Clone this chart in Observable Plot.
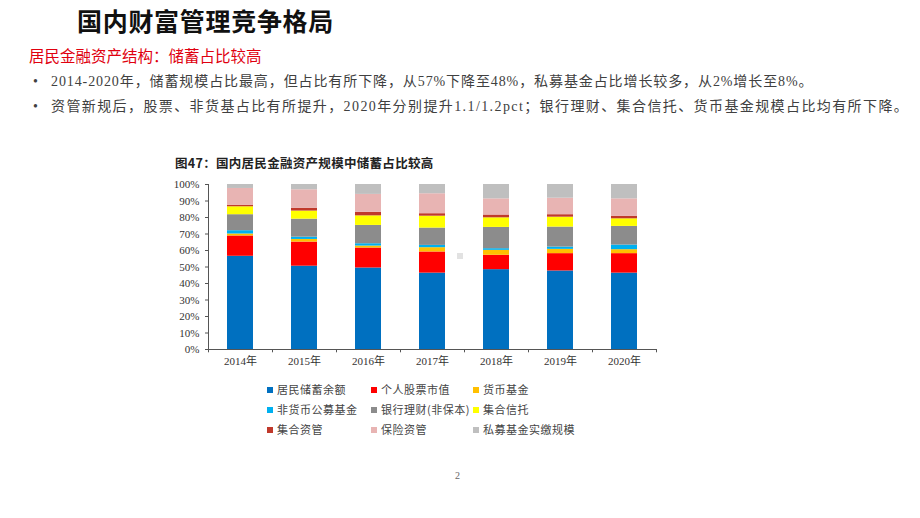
<!DOCTYPE html>
<html>
<head>
<meta charset="utf-8">
<script src="https://cdn.jsdelivr.net/npm/d3@7"></script>
<script src="https://cdn.jsdelivr.net/npm/@observablehq/plot@0.6"></script>
<style>
  html, body { margin: 0; padding: 0; background: #fff; }
  body { width: 920px; height: 518px; position: relative; overflow: hidden; font-family: "Liberation Serif", "Noto Sans CJK SC", serif; }
  .abs { position: absolute; white-space: nowrap; }
  #title { left: 77px; top: 3px; font-family: "Noto Sans CJK SC", sans-serif; font-size: 25px; font-weight: 700; color: #111; line-height: 34px; letter-spacing: 0.7px; }
  #sub { left: 29px; top: 44px; font-family: "Noto Sans CJK SC", sans-serif; font-size: 15.5px; color: #e0000f; line-height: 22px; }
  .bullet { left: 33px; font-size: 14px; color: #404040; line-height: 20px; }
  .bullet span.dot { display: inline-block; width: 18px; letter-spacing: 0; }
  #b1 { top: 72px; letter-spacing: 0.9px; }
  #b2 { top: 97px; letter-spacing: 1.4px; }
  #ctitle { left: 175px; top: 154px; font-family: "Noto Sans CJK SC", sans-serif; font-size: 12.5px; font-weight: 700; color: #222; line-height: 18px; letter-spacing: 0.3px; }
  #chart { left: 160px; top: 175px; }
  .leg { font-family: "Noto Sans CJK SC", sans-serif; font-size: 11px; color: #444; line-height: 14px; letter-spacing: 0.5px; }
  .leg i { display: inline-block; width: 6px; height: 6px; margin-right: 4px; vertical-align: 1px; }
  #pg { left: 455px; top: 470px; font-size: 10px; color: #666; }
  #dot { left: 457px; top: 253px; width: 6px; height: 6px; background: #e2e2e2; }
</style>
</head>
<body>
<div class="abs" id="title">国内财富管理竞争格局</div>
<div class="abs" id="sub">居民金融资产结构：储蓄占比较高</div>
<div class="abs bullet" id="b1"><span class="dot">•</span>2014-2020年，储蓄规模占比最高，但占比有所下降，从57%下降至48%，私募基金占比增长较多，从2%增长至8%。</div>
<div class="abs bullet" id="b2"><span class="dot">•</span>资管新规后，股票、非货基占比有所提升，2020年分别提升1.1/1.2pct；银行理财、集合信托、货币基金规模占比均有所下降。</div>
<div class="abs" id="ctitle">图47：国内居民金融资产规模中储蓄占比较高</div>
<div class="abs" id="chart"></div>
<div id="legend"></div>
<div class="abs" id="dot"></div>
<div class="abs" id="pg">2</div>
<script>
const years = ["2014年", "2015年", "2016年", "2017年", "2018年", "2019年", "2020年"];
const seriesNames = ["居民储蓄余额", "个人股票市值", "货币基金", "非货币公募基金", "银行理财(非保本)", "集合信托", "集合资管", "保险资管", "私募基金实缴规模"];
const seriesColors = ["#0070c0", "#ff0000", "#ffc000", "#00b0f0", "#8c8c8c", "#ffff00", "#c0392b", "#e8b4b3", "#bfbfbf"];
const savings     = [56.5, 50.5, 49.4, 46.3, 48.4, 47.6, 46.3];
const stocks      = [12.3, 14.6, 12.1, 12.8, 8.7, 10.5, 11.8];
const moneyFund   = [1.2, 1.6, 1.2, 2.6, 3.0, 2.6, 2.4];
const nonMoneyFund= [2.0, 1.4, 1.4, 1.4, 1.0, 1.4, 2.8];
const bankWM      = [9.7, 10.9, 11.1, 10.5, 12.9, 12.1, 11.3];
const trust       = [4.8, 4.9, 5.8, 7.2, 5.8, 6.0, 4.6];
const assetMgmt   = [0.8, 1.6, 2.1, 1.5, 1.7, 1.5, 1.6];
const insurance   = [10.3, 11.3, 10.9, 12.1, 9.8, 10.0, 10.5];
const privateFund = [2.4, 3.2, 6.0, 5.6, 8.7, 8.3, 8.7];
const yTicks = [0, 10, 20, 30, 40, 50, 60, 70, 80, 90, 100];

const seriesValues = [savings, stocks, moneyFund, nonMoneyFund, bankWM, trust, assetMgmt, insurance, privateFund];
const data = [];
seriesNames.forEach((s, i) => years.forEach((y, j) => data.push({year: y, series: s, value: seriesValues[i][j]})));

const chart = Plot.plot({
  width: 510,
  height: 195,
  marginLeft: 48,
  marginRight: 14,
  marginTop: 9,
  marginBottom: 21,
  style: {fontFamily: "'Liberation Serif', 'Noto Sans CJK SC', serif", fontSize: "11px", color: "#333", background: "transparent"},
  x: {domain: years, paddingInner: 0.6, paddingOuter: 0.3, label: null},
  y: {domain: [0, 100], label: null},
  color: {domain: seriesNames, range: seriesColors},
  marks: [
    Plot.barY(data, {x: "year", y: "value", fill: "series", order: seriesNames}),
    Plot.ruleY([0], {stroke: "#555", strokeWidth: 1}),
    Plot.ruleX([years[0]], {dx: -32, y1: 0, y2: 100, stroke: "#555"}),
    Plot.ruleX(years, {dx: -32, y1: 0, y2: -2, stroke: "#555"}),
    Plot.ruleX([years[years.length - 1]], {dx: 32, y1: 0, y2: -2, stroke: "#555"}),
    Plot.axisY({ticks: yTicks, tickFormat: d => d + "%", tickSize: 3, tickPadding: 6, stroke: "#555", fill: "#333"}),
    Plot.axisX({tickSize: 0, tickPadding: 8, fill: "#333"})
  ]
});
document.getElementById("chart").appendChild(chart);

// legend
const legX = [267, 371, 473];
const legY = [382, 402, 422];
const legend = document.getElementById("legend");
seriesNames.forEach((s, i) => {
  const d = document.createElement("div");
  d.className = "abs leg";
  d.style.left = legX[i % 3] + "px";
  d.style.top = legY[Math.floor(i / 3)] + "px";
  d.innerHTML = `<i style="background:${seriesColors[i]}"></i>${s}`;
  legend.appendChild(d);
});
</script>
</body>
</html>
